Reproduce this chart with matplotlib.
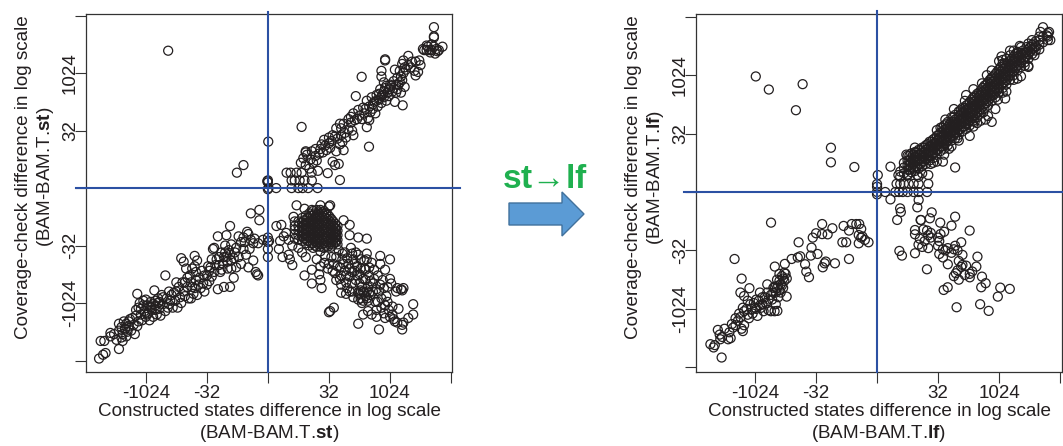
import matplotlib
matplotlib.use('Agg')
import matplotlib.pyplot as plt
from matplotlib.patches import FancyArrow

plt.rcParams['font.family'] = ['Liberation Sans', 'DejaVu Sans']
plt.rcParams['mathtext.fontset'] = 'custom'
plt.rcParams['mathtext.rm'] = 'Liberation Sans'
plt.rcParams['mathtext.bf'] = 'Liberation Sans:bold'

# all values are sign * log2(difference)
tick_pos = [-15, -10, -5, 0, 5, 10, 15]
tick_names = ['', '-1024', '-32', '', '32', '1024', '']

# ---- st panel ----
st_single = [(-8.17, 11.95), (0.03, 4.04), (-2.0, 2.0), (-2.54, 1.34), (2.76, 5.32), (7.68, 9.68), (7.2, 8.0),
             (8.28, 3.6), (11.04, 7.2), (0, 0.67), (0, 0.5), (0.05, 0.0), (0, -0.1), (0.68, 0), (-0.05, 0.6)]

st_low_rows = [(1.53, 1.34), (1.86, 1.34), (2.35, 1.34), (2.76, 1.34), (3.58, 1.34), (1.94, 0.67), (2.2, 0.67),
               (2.6, 0.67), (3.0, 0.67), (3.6, 0.67), (1.94, 0), (2.49, 0), (2.84, 0), (3.3, 0), (4.07, 0)]

st_upper = [(2.7, 2.2), (2.9, 2.6), (3.1, 2.0), (3.2, 2.9), (3.4, 1.7), (3.5, 2.5), (3.7, 2.2), (3.1, 3.1), (3.1, 3.2),
            (3.9, 2.8), (4.0, 2.4), (4.2, 3.0), (4.3, 3.4), (4.5, 3.1), (4.1, 1.5), (4.7, 3.7), (4.8, 3.3), (5.0, 3.9),
            (5.1, 3.5), (5.2, 4.1), (4.9, 1.3), (5.3, 2.3), (5.5, 2.0), (5.8, 2.1), (5.9, 0.7), (5.6, 3.2), (5.7, 4.3),
            (5.9, 3.8), (6.0, 4.6), (6.1, 4.0), (6.2, 3.3), (6.3, 4.8), (6.4, 4.4), (6.6, 5.1), (6.0, 5.2), (5.5, 4.5),
            (6.8, 5.7), (6.9, 5.0), (7.0, 4.6), (7.1, 5.9), (7.3, 6.0), (6.8, 6.2), (7.5, 6.3), (7.7, 6.0), (7.9, 6.5),
            (8.1, 5.3), (8.2, 6.1), (8.3, 5.9), (8.4, 6.6), (8.0, 6.9), (8.6, 6.9), (8.6, 7.3), (8.8, 6.5), (8.9, 7.6),
            (9.0, 7.1), (9.1, 7.7), (9.1, 8.2), (9.3, 7.4), (9.3, 8.0), (9.5, 7.9), (9.5, 8.4), (9.7, 7.6), (9.6, 8.7),
            (9.8, 8.3), (9.9, 8.0), (10.0, 8.6), (10.1, 8.9), (10.2, 8.4), (10.3, 8.7), (10.4, 7.5), (10.5, 8.3),
            (10.5, 9.0), (10.6, 8.6), (9.5, 9.2), (10.7, 9.0), (10.9, 8.3), (10.8, 9.2), (10.9, 9.7), (11.0, 9.4),
            (11.1, 10.0), (11.2, 8.8), (11.3, 10.3), (11.0, 10.8), (11.5, 10.7), (9.3, 10.2), (9.3, 9.7), (11.1, 11.1),
            (11.7, 10.5), (12.0, 10.2), (12.1, 9.8), (12.3, 10.1), (11.8, 11.0), (12.1, 11.0), (12.5, 10.7), (12.4, 11.1),
            (11.5, 11.5), (12.8, 12.0), (13.0, 12.0), (13.3, 11.8), (13.4, 12.0), (13.1, 12.3), (13.6, 12.3), (13.9, 11.9),
            (13.4, 12.5), (13.7, 11.7), (14.0, 12.0), (13.0, 12.4), (13.6, 13.1), (13.6, 13.2), (13.6, 14.0), (14.3, 12.3),
            (9.6, 11.1), (9.6, 11.2), (8.1, 7.6), (8.3, 7.1), (8.5, 7.9), (8.7, 7.5), (8.9, 8.1), (9.2, 8.6), (9.4, 8.1),
            (9.7, 8.9), (10.0, 9.0), (10.3, 9.3), (10.6, 9.6), (10.4, 10.3), (10.8, 10.2), (11.2, 10.5), (3.6, 3.2), (3.9, 3.4),
            (4.4, 3.8), (4.6, 4.2), (5.0, 4.4), (5.3, 4.6), (5.6, 5.2), (5.9, 5.6), (6.2, 5.6), (6.6, 6.0), (7.0, 6.5),
            (7.4, 6.8), (7.8, 7.0), (12.7, 12.1), (13.2, 12.0), (13.8, 12.1)]

st_lower_left = [(-13.83, -14.83), (-13.5, -14.5), (-13.3, -14.35), (-13.7, -13.3), (-13.4, -13.3), (-12.9, -12.9),
                 (-12.9, -12.6), (-12.6, -12.7), (-12.4, -13.2), (-12.2, -14.0), (-12.0, -13.0), (-11.9, -13.3),
                 (-11.9, -12.7), (-11.7, -12.3), (-11.6, -11.8), (-11.4, -12.0), (-12.2, -11.8), (-12.0, -12.1),
                 (-11.8, -11.6), (-11.5, -12.5), (-11.3, -11.4), (-11.2, -12.4), (-11.0, -11.9), (-10.9, -12.7),
                 (-10.8, -11.1), (-10.7, -9.2), (-10.6, -11.6), (-10.4, -10.5), (-10.4, -11.0), (-10.2, -9.8),
                 (-10.1, -10.7), (-10.0, -11.2), (-9.9, -10.2), (-9.8, -10.9), (-9.7, -11.5), (-9.6, -9.9),
                 (-9.5, -10.6), (-9.4, -11.2), (-9.3, -8.9), (-9.2, -10.2), (-9.1, -11.0), (-9.0, -9.6), (-8.9, -10.5),
                 (-8.8, -11.1), (-8.7, -9.3), (-8.6, -10.1), (-8.4, -7.6), (-8.3, -9.6), (-8.2, -10.4), (-8.1, -9.0),
                 (-8.0, -9.8), (-7.8, -10.4), (-7.7, -9.1), (-7.6, -9.8), (-7.5, -8.2), (-7.4, -10.4), (-7.3, -8.6),
                 (-7.2, -9.5), (-7.1, -6.1), (-7.0, -8.2), (-6.9, -9.0), (-6.9, -6.4), (-6.7, -7.0), (-6.6, -8.6),
                 (-6.5, -9.6), (-6.4, -7.6), (-6.3, -8.2), (-6.2, -7.0), (-6.1, -9.2), (-6.0, -8.7), (-6.0, -6.8),
                 (-5.9, -8.0), (-5.8, -9.3), (-5.6, -7.8), (-5.5, -8.7), (-5.4, -7.2), (-5.3, -8.3), (-5.2, -9.0),
                 (-5.0, -7.6), (-4.9, -6.8), (-4.8, -8.1), (-4.8, -7.2), (-4.6, -6.2), (-4.6, -7.7), (-4.5, -5.3),
                 (-4.4, -5.2), (-4.3, -6.7), (-4.1, -8.8), (-4.1, -4.2), (-4.0, -6.0), (-3.9, -7.3), (-3.8, -5.6),
                 (-3.7, -6.6), (-3.6, -8.6), (-3.5, -5.0), (-3.4, -4.1), (-3.4, -6.0), (-3.3, -7.0), (-3.2, -5.4),
                 (-3.1, -3.3), (-3.1, -8.6), (-3.0, -6.3), (-3.0, -4.9), (-2.8, -7.8), (-2.7, -5.6), (-2.4, -6.0),
                 (-2.4, -4.2), (-2.2, -6.6), (-2.0, -5.3), (-2.0, -4.3), (-1.8, -5.8), (-1.7, -3.8), (-1.6, -6.9),
                 (-1.6, -4.0), (-1.5, -5.3), (-1.4, -2.2), (-1.4, -4.5), (-1.2, -6.3), (-1.1, -4.4), (-0.8, -7.6),
                 (-0.7, -1.9), (-0.7, -2.8), (-0.8, -4.8), (-0.4, -4.5), (-0.9, -7.5), (-6.0, -5.9), (-5.8, -6.3),
                 (-11.7, -12.2), (-11.4, -11.6), (-10.6, -10.4), (-9.9, -11.0), (-9.2, -9.8),
                 (-12.2, -12.4), (-11.6, -12.9), (-11.1, -11.3), (-10.7, -12.0), (-10.3, -11.5), (-10.5, -10.0), (-10.0, -9.7),
                 (-9.7, -10.3), (-9.4, -10.1), (-9.2, -10.6), (-8.9, -9.9), (-8.6, -9.5), (-8.4, -10.7), (-7.9, -9.3), (-7.5, -9.0),
                 (-7.1, -10.0), (-6.8, -8.2), (-6.6, -7.8), (-6.2, -8.6), (-5.9, -7.3), (-5.7, -8.4), (-5.2, -7.6), (-5.0, -8.4),
                 (-4.7, -6.9), (-4.4, -7.3), (-4.2, -6.2), (-4.0, -6.7), (-3.8, -7.1), (-3.6, -6.0), (-3.5, -5.6), (-3.3, -6.4),
                 (-3.1, -5.8), (-3.0, -7.0), (-2.8, -6.1), (-2.6, -5.2), (-2.6, -6.9), (-2.2, -4.7), (-1.9, -4.7), (-1.2, -4.8),
                 (-1.0, -7.3), (-8.1, -10.1), (-9.0, -10.0), (-9.6, -10.4), (-10.2, -10.2), (-10.8, -10.6), (-6.8, -9.4), (-6.3, -9.6)]

st_middle = [(0, -4.3), (0, -4.7), (0, -5.3), (0, -6), (0.1, -4.6), (0.7, -3.3), (0.9, -5.3), (1.0, -4.6), (1.1, -3.2),
             (1.3, -4.2), (1.2, -6.0), (1.5, -3.9), (1.7, -5.8), (1.7, -4.5), (1.8, -6.2), (2.0, -5.0), (2.0, -6.7),
             (2.2, -3.3), (2.1, -2.5), (2.35, -1.5), (3.0, -1.8), (4.3, -1.5), (5.1, -1.5), (5.0, -1.6), (3.6, -1.9)]

# the solid blob, column by column: x, then the y values in that column
st_blob = [(2.2, [-3.6, -4.0, -4.4, -2.9]), (2.5, [-2.9, -3.3, -3.7, -4.1, -4.5, -5.2]),
           (2.8, [-2.6, -3.0, -3.4, -3.8, -4.2, -4.6, -5.6]), (3.1, [-2.4, -2.8, -3.2, -3.6, -4.0, -4.4, -4.8, -6.0]),
           (3.4, [-2.2, -2.6, -3.0, -3.4, -3.8, -4.2, -4.6, -5.0]), (3.7, [-2.0, -2.4, -2.8, -3.2, -3.6, -4.0, -4.4, -4.8, -5.2]),
           (4.0, [-1.9, -2.3, -2.7, -3.1, -3.5, -3.9, -4.3, -4.7, -5.1]), (4.3, [-1.9, -2.3, -2.7, -3.1, -3.5, -3.9, -4.3, -4.7, -5.1, -5.5]),
           (4.6, [-2.0, -2.4, -2.8, -3.2, -3.6, -4.0, -4.4, -4.8, -5.2]), (4.9, [-2.3, -2.7, -3.1, -3.5, -3.9, -4.3, -4.7, -5.1]),
           (5.2, [-2.7, -3.1, -3.5, -3.9, -4.3, -4.7, -5.1]), (5.5, [-3.1, -3.5, -3.9, -4.3, -4.7]),
           (5.7, [-3.3, -3.7, -4.1, -4.5, -4.9])]

# second pass over the blob, filling the gaps between the first columns
st_blob_fill = [(2.95, [-2.8, -3.2, -3.6, -4.0, -4.4]), (3.25, [-2.6, -3.0, -3.4, -3.8, -4.2, -4.6]),
                (3.55, [-2.4, -2.8, -3.2, -3.6, -4.0, -4.4, -4.8]), (3.85, [-2.2, -2.6, -3.0, -3.4, -3.8, -4.2, -4.6, -5.0]),
                (4.15, [-2.1, -2.5, -2.9, -3.3, -3.7, -4.1, -4.5, -4.9]), (4.45, [-2.1, -2.5, -2.9, -3.3, -3.7, -4.1, -4.5, -4.9]),
                (4.75, [-2.2, -2.6, -3.0, -3.4, -3.8, -4.2, -4.6, -5.0]), (5.05, [-2.5, -2.9, -3.3, -3.7, -4.1, -4.5, -4.9]),
                (5.35, [-2.9, -3.3, -3.7, -4.1, -4.5, -4.9]), (5.6, [-3.5, -3.9, -4.3, -4.7])]

st_lower_right = [(6.2, -2.8), (6.7, -3.2), (8.1, -4.4), (6.7, -4.1), (7.4, -4.3), (10, -6.2), (9.2, -5.9), (8.1, -5.7),
                  (3.0, -7.6), (3.6, -7.1), (3.6, -8.3), (4.2, -7.5), (4.3, -8.0), (4.4, -8.7), (4.6, -6.5), (4.9, -7.0),
                  (5.1, -10.7), (5.0, -10.8), (5.4, -10.4), (5.2, -6.0), (5.4, -6.6), (5.5, -7.4), (5.6, -8.0), (5.8, -5.4),
                  (5.9, -6.9), (6.0, -7.6), (6.0, -9.1), (6.1, -6.2), (6.3, -5.6), (6.3, -7.2), (6.4, -8.2), (6.4, -9.2),
                  (6.6, -6.6), (6.7, -7.7), (6.7, -9.0), (6.8, -5.2), (6.9, -8.3), (7.0, -6.2), (7.0, -9.5), (7.1, -7.2),
                  (7.2, -5.6), (7.2, -8.0), (7.3, -6.8), (7.4, -9.1), (7.4, -11.8), (7.5, -7.5), (7.6, -6.2), (7.6, -9.6),
                  (7.7, -8.6), (7.7, -10.0), (7.8, -9.0), (7.8, -11.0), (7.9, -7.0), (8.0, -9.4), (8.0, -8.0), (8.1, -6.2),
                  (8.1, -9.0), (8.2, -9.8), (8.2, -10.7), (8.3, -7.6), (8.4, -9.3), (8.5, -6.5), (8.5, -11.0), (8.6, -8.3),
                  (8.7, -7.1), (8.8, -9.9), (8.9, -10.6), (9.0, -7.6), (9.1, -12.3), (9.1, -9.0), (9.2, -6.6), (9.3, -10.4),
                  (9.4, -8.0), (9.5, -10.9), (9.6, -7.1), (9.7, -9.4), (9.8, -8.6), (9.9, -10.6), (10.0, -7.9), (10.0, -11.2),
                  (10.1, -8.3), (10.2, -10.3), (10.3, -11.4), (10.5, -9.0), (10.6, -8.7), (10.7, -10.5), (10.9, -8.8), (11.0, -8.9),
                  (11.0, -12.3), (11.0, -11.9), (11.1, -11.7), (11.1, -8.7), (11.5, -11.3), (11.9, -10.1), (11.9, -11.0), (10.4, -11.6),
                  (4.0, -6.2), (4.3, -6.8), (4.7, -5.9), (5.0, -6.6), (5.3, -7.2), (5.6, -6.0), (5.7, -6.8), (5.9, -7.9), (6.1, -5.7),
                  (6.2, -6.6), (6.4, -7.6), (6.5, -6.1), (6.7, -7.0), (6.9, -5.7), (6.9, -7.3), (7.1, -6.6), (7.3, -7.6), (7.4, -5.8),
                  (7.5, -8.3), (7.6, -7.0), (7.8, -7.9), (7.9, -6.3), (8.0, -7.1), (8.2, -8.6), (8.3, -6.9), (8.4, -8.1), (8.6, -9.0),
                  (8.7, -7.9), (8.9, -8.8), (9.0, -9.9), (9.2, -8.4), (9.3, -9.6), (9.5, -8.7), (9.6, -10.2), (9.8, -9.9), (7.5, -9.2),
                  (7.6, -8.9), (7.9, -9.1), (8.1, -9.6), (7.8, -9.8), (7.4, -9.7), (8.3, -9.1), (6.9, -9.0), (6.5, -8.7), (6.0, -8.4),
                  (10.2, -11.0), (9.6, -11.3), (8.9, -11.2), (10.6, -11.7)]

# ---- lf panel ----
lf_single = [(-9.94, 9.89), (-8.87, 8.77), (-6.1, 9.23), (-6.65, 7.0), (-3.78, 3.79), (-3.78, 2.54), (-1.86, 2.14),
             (0.06, 1.45), (0, 0.68), (0, 0.45), (0, 0.0), (0, -0.2), (0.67, 0), (1.1, 2.17), (1.1, -0.63),
             (6.4, 2.1), (3.1, 3.4), (2.4, 3.2), (1.9, 1.75), (1.75, 1.45), (4.2, 0.7), (4.1, 0)]

lf_low_rows = [(1.6, 0.7), (1.9, 0.7), (2.2, 0.7), (2.6, 0.7), (3.0, 0.7), (3.4, 0.7), (1.5, 0), (1.8, 0), (2.1, 0),
               (2.5, 0), (3.0, 0), (3.4, 0), (1.9, 1.3), (2.5, 1.4), (3.3, 1.45), (4.2, 1.45)]

# the dense diagonal band, column by column: x, then the y values in that column
lf_band = [(2.2, [1.6, 2.1, 2.5]), (2.5, [1.5, 1.9, 2.3, 2.7, 3.1]), (2.8, [1.7, 2.1, 2.5, 2.9, 3.3]),
           (3.1, [1.8, 2.2, 2.6, 3.0, 3.4, 3.8]), (3.4, [2.0, 2.4, 2.8, 3.2, 3.6]), (3.7, [2.2, 2.6, 3.0, 3.4, 3.8, 1.6]),
           (4.0, [2.4, 2.8, 3.2, 3.6, 4.0]), (4.3, [2.7, 3.1, 3.5, 3.9, 4.3]), (4.6, [2.9, 3.3, 3.7, 4.1, 4.5, 2.5]),
           (4.9, [3.2, 3.6, 4.0, 4.4, 4.8, 5.3]), (5.2, [3.5, 3.9, 4.3, 4.7, 5.1, 5.5]), (5.5, [3.7, 4.1, 4.5, 4.9, 5.3, 5.7, 3.2]),
           (5.8, [4.0, 4.4, 4.8, 5.2, 5.6, 6.0]), (6.1, [4.4, 4.8, 5.2, 5.6, 6.0, 6.4, 3.9]), (6.4, [4.6, 5.0, 5.4, 5.8, 6.2, 6.6]),
           (6.7, [4.9, 5.3, 5.7, 6.1, 6.5, 6.9, 4.4]), (7.0, [5.2, 5.6, 6.0, 6.4, 6.8, 7.2]), (7.3, [5.4, 5.8, 6.2, 6.6, 7.0, 7.4, 8.3]),
           (7.6, [5.7, 6.1, 6.5, 6.9, 7.3, 7.7, 4.8]), (7.9, [6.1, 6.5, 6.9, 7.3, 7.7, 8.1, 8.8]), (8.2, [6.4, 6.8, 7.2, 7.6, 8.0, 8.4, 5.9]),
           (8.5, [6.7, 7.1, 7.5, 7.9, 8.3, 8.7, 6.1]), (8.8, [7.1, 7.5, 7.9, 8.3, 8.7, 9.1]), (9.1, [7.4, 7.8, 8.2, 8.6, 9.0, 9.4, 6.5]),
           (9.4, [7.8, 8.2, 8.6, 9.0, 9.4, 9.8, 10.4]), (9.7, [8.1, 8.5, 8.9, 9.3, 9.7, 10.1, 7.1]), (10.0, [8.5, 8.9, 9.3, 9.7, 10.1, 10.5, 11.2]),
           (10.3, [8.9, 9.3, 9.7, 10.1, 10.5, 11.0, 11.3]), (10.6, [9.2, 9.6, 10.0, 10.4, 10.8, 11.4, 8.6]), (10.9, [9.6, 10.0, 10.4, 10.8, 11.2, 11.7]),
           (11.2, [10.0, 10.4, 10.8, 11.2, 11.6, 12.1]), (11.5, [10.4, 10.8, 11.2, 11.6, 12.0, 9.7]), (11.8, [10.7, 11.1, 11.5, 11.9, 12.4]),
           (12.1, [11.1, 11.5, 11.9, 10.8]), (12.4, [11.4, 11.8, 12.2, 12.7, 10.7]), (12.7, [11.8, 12.2, 12.6, 13.0]),
           (13.0, [12.1, 12.5, 12.9, 12.4]), (13.3, [12.2, 12.6, 13.0, 13.3]), (13.6, [12.8, 13.3, 14.1]), (14.0, [13.3, 13.6, 13.0])]

# second pass over the band, between the first columns
lf_band_fill = [(2.65, [1.9, 2.3, 2.7, 3.1]), (2.95, [2.0, 2.4, 2.8, 3.2]), (3.25, [2.2, 2.6, 3.0, 3.4]), (3.55, [2.4, 2.8, 3.2, 3.6]),
                (3.85, [2.6, 3.0, 3.4, 3.8]), (4.15, [2.9, 3.3, 3.7, 4.1]), (4.45, [3.1, 3.5, 3.9, 4.3]), (4.75, [3.4, 3.8, 4.2, 4.6]),
                (5.05, [3.7, 4.1, 4.5, 4.9]), (5.35, [3.9, 4.3, 4.7, 5.1, 5.5]), (5.65, [4.2, 4.6, 5.0, 5.4, 5.8]), (5.95, [4.6, 5.0, 5.4, 5.8]),
                (6.25, [4.8, 5.2, 5.6, 6.0, 6.4]), (6.55, [5.1, 5.5, 5.9, 6.3]), (6.85, [5.4, 5.8, 6.2, 6.6, 7.0]), (7.15, [5.6, 6.0, 6.4, 6.8, 7.2]),
                (7.45, [5.9, 6.3, 6.7, 7.1, 7.5]), (7.75, [6.3, 6.7, 7.1, 7.5, 7.9]), (8.05, [6.6, 7.0, 7.4, 7.8, 8.2]), (8.35, [6.9, 7.3, 7.7, 8.1, 8.5]),
                (8.65, [7.3, 7.7, 8.1, 8.5, 8.9]), (8.95, [7.6, 8.0, 8.4, 8.8, 9.2]), (9.25, [8.0, 8.4, 8.8, 9.2, 9.6]), (9.55, [8.3, 8.7, 9.1, 9.5, 9.9]),
                (9.85, [8.7, 9.1, 9.5, 9.9, 10.3]), (10.15, [9.1, 9.5, 9.9, 10.3, 10.7]), (10.45, [9.4, 9.8, 10.2, 10.6, 11.0]),
                (10.75, [9.8, 10.2, 10.6, 11.0]), (11.05, [10.2, 10.6, 11.0, 11.4]), (11.35, [10.6, 11.0, 11.4, 11.8]), (11.65, [10.9, 11.3, 11.7]),
                (11.95, [11.3, 11.7, 12.1]), (12.25, [11.6, 12.0, 12.4]), (12.55, [12.0, 12.4]), (12.85, [12.3, 12.7])]

lf_upper_edge = [(13.4, 13.7), (13.9, 13.4), (14.2, 13.0), (14.1, 13.7), (11.5, 11.9), (9.3, 9.6), (12.9, 11.7), (8.9, 6.2),
                 (5.4, 2.6), (4.9, 2.6), (7.9, 5.6), (9.4, 6.0), (10.5, 8.0), (11.8, 9.9), (12.4, 10.8), (3.4, 1.3),
                 (7.2, 7.8), (6.3, 7.1), (5.6, 6.2), (8.6, 9.3), (9.0, 10.0), (10.2, 11.6), (10.9, 12.1), (11.7, 12.5),
                 (8.0, 6.0), (8.7, 6.8), (9.9, 7.9), (10.3, 8.5), (11.2, 9.6), (6.6, 4.6), (5.9, 3.7), (4.4, 2.4)]

lf_lower_left = [(-13.66, -13.02), (-13.4, -13.3), (-13.3, -13.1), (-12.74, -14.16), (-13.05, -11.8), (-12.9, -12.2), (-12.7, -12.4),
                 (-12.85, -12.6), (-12.5, -11.7), (-12.2, -12.6), (-12.0, -12.5), (-12.1, -12.0), (-11.8, -11.6), (-11.6, -11.4),
                 (-11.9, -11.3), (-11.4, -11.0), (-11.2, -10.7), (-11.1, -11.7), (-11.0, -11.9), (-10.9, -11.4), (-11.6, -10.8),
                 (-11.3, -10.4), (-10.9, -10.2), (-10.7, -10.0), (-11.0, -9.9), (-10.5, -10.8), (-10.4, -9.6), (-10.2, -10.4),
                 (-10.0, -9.9), (-9.9, -9.2), (-9.8, -10.6), (-9.6, -9.7), (-9.4, -9.0), (-9.3, -10.2), (-9.1, -9.5), (-9.0, -8.6),
                 (-8.9, -10.1), (-8.7, -10.2), (-8.6, -9.2), (-8.5, -8.6), (-8.4, -10.2), (-8.17, -10.17), (-8.3, -9.6), (-8.2, -8.2),
                 (-8.1, -9.0), (-8.0, -7.6), (-7.9, -8.6), (-7.8, -7.2), (-7.7, -8.2), (-7.6, -7.6), (-7.5, -7.0), (-7.41, -8.95),
                 (-7.8, -8.0), (-8.0, -8.4), (-8.4, -8.1), (-7.4, -7.4), (-7.6, -6.9), (-11.68, -5.73), (-11.1, -7.41), (-8.69, -2.62),
                 (-11.2, -8.6), (-10.9, -8.9), (-10.46, -8.23), (-10.6, -9.3), (-8.38, -6.38), (-7.56, -6.15), (-9.0, -7.9), (-9.6, -8.6),
                 (-10.1, -9.5), (-9.7, -9.3), (-9.5, -9.9), (-9.2, -9.0), (-8.9, -9.2), (-8.7, -8.8), (-8.5, -8.2), (-8.3, -8.6), (-8.1, -8.0),
                 (-7.9, -7.9), (-8.2, -7.5), (-8.0, -7.0), (-7.7, -7.4), (-10.3, -10.0), (-10.6, -10.5), (-9.9, -10.0), (-9.4, -9.6)]

lf_arc = [(-7, -5.73), (-6.5, -5.6), (-6.43, -4.3), (-6.3, -5.5), (-5.27, -3.9), (-5, -3.53), (-4.5, -2.74), (-4.5, -3.6),
          (-4.05, -3.62), (-3.66, -3.1), (-5.37, -4.76), (-5.43, -5.44), (-4.88, -5.3), (-5.9, -6.18), (-5.8, -6.81),
          (-5.58, -7.29), (-4.45, -6.44), (-4.2, -5.95), (-4.3, -6.1), (-3.45, -6.1), (-2.3, -5.73), (-2.84, -4.3), (-2.53, -4.3),
          (-2.74, -2.9), (-2.3, -3.3), (-2.07, -2.74), (-1.7, -2.74), (-1.46, -2.74), (-1.3, -3.16), (-1.5, -3.68), (-1.5, -4.39),
          (-1.3, -3.9), (-1.0, -4.1), (-0.7, -4.3), (-1.2, -3.8)]

lf_lower_right = [(3.41, -0.68), (3.3, -1.31), (1.89, -1.4), (1.95, -1.71), (1.65, -2.39), (4.48, -1.74), (3.57, -2.39), (4.33, -2.25),
                  (3.6, -2.4), (6.4, -2.11), (5.18, -2.62), (6.1, -2.88), (7.59, -3.3), (3.11, -3.25), (3.11, -3.62), (4.1, -3.3),
                  (4.4, -3.5), (3.8, -3.2), (4.2, -3.7), (3.5, -4.0), (3.4, -4.5), (3.9, -4.2), (4.4, -3.9), (4.2, -4.8), (3.7, -4.7),
                  (1.83, -5.04), (2.04, -5.44), (3.11, -5.24), (4.09, -6.61), (5.46, -8.38), (5.79, -8.15), (6.52, -9.86), (8.45, -9.6),
                  (9.15, -10.17), (9.9, -8.95), (10.1, -8.18), (10.88, -8.29), (8.23, -5.53), (8.9, -7.8), (8.54, -8.15), (8.14, -6.38),
                  (8.6, -7.24), (6.46, -6.95), (6.6, -6.7), (6.3, -7.2), (6.7, -7.5), (7.2, -7.1), (7.6, -7.0), (7.8, -6.8), (7.0, -6.24),
                  (7.3, -6.3), (6.9, -6.4), (7.0, -5.38), (6.9, -4.3), (5.8, -6.18), (5.4, -4.9), (5.0, -4.6), (5.6, -5.0), (5.8, -4.8),
                  (6.1, -5.2), (6.3, -4.9), (6.6, -5.0), (5.1, -5.3), (5.4, -5.6), (5.1, -4.2), (5.2, -3.6), (5.5, -3.4), (5.0, -3.9),
                  (6.4, -4.6), (7.6, -7.3), (6.7, -5.9)]


def expand(columns):
    return [(x, y) for x, ys in columns for y in ys]


def draw_panel(left, right, top, bottom, xlim, ylim, pts, xlabel, ylabel, hline, vtop):
    ax = fig.add_axes([left / W, 1 - bottom / H, (right - left) / W, (bottom - top) / H])
    xs = [p[0] for p in pts]
    ys = [p[1] for p in pts]
    ax.scatter(xs, ys, s=42, facecolors='none', edgecolors='#231f20', linewidths=0.9, clip_on=False, zorder=2)
    ax.set_xlim(xlim)
    ax.set_ylim(ylim)
    ax.set_xticks([t for t in tick_pos if xlim[0] < t < xlim[1]])
    ax.set_xticklabels(tick_names[1:])
    ax.set_yticks(tick_pos)
    ax.set_yticklabels(tick_names, rotation=90, va='center')
    ax.tick_params(length=8, width=0.8, color='#333333', labelcolor='#231f20', labelsize=13.5, pad=1)
    ax.tick_params(axis='y', pad=-3)
    for s in ax.spines.values():
        s.set_linewidth(0.9)
        s.set_color('#333333')
    # blue guide lines run a bit past the frame
    ax.plot(hline, [0, 0], color=BLUE, lw=1.5, clip_on=False, zorder=3)
    ax.plot([0, 0], [ylim[0], vtop], color=BLUE, lw=1.5, clip_on=False, zorder=3)
    ax.set_xlabel(xlabel, fontsize=13.6, color='#231f20', linespacing=1.2)
    ax.set_ylabel(ylabel, fontsize=13.6, color='#231f20', linespacing=1.2)
    ax.xaxis.set_label_coords(0.5, -0.087)
    ax.yaxis.set_label_coords(-0.083, 0.545)
    return ax


W, H = 1063, 446
BLUE = '#2b50a3'
fig = plt.figure(figsize=(W / 100, H / 100), dpi=100)

st_pts = st_single + st_low_rows + st_upper + st_lower_left + st_middle + expand(st_blob) + expand(st_blob_fill) + st_lower_right
lf_pts = lf_single + lf_low_rows + expand(lf_band) + expand(lf_band_fill) + lf_upper_edge + lf_lower_left + lf_arc + lf_lower_right

draw_panel(86, 452, 14.5, 372, (-14.9, 15.08), (-16.0, 15.1), st_pts,
           'Constructed states difference in log scale\n(BAM-BAM.T.$\\mathbf{st}$)',
           'Coverage-check difference in log scale\n(BAM-BAM.T.$\\mathbf{st}$)',
           [-15.74, 15.74], 15.35)
draw_panel(696, 1062, 14.5, 372, (-14.84, 15.16), (-15.4, 15.19), lf_pts,
           'Constructed states difference in log scale\n(BAM-BAM.T.$\\mathbf{lf}$)',
           'Coverage-check difference in log scale\n(BAM-BAM.T.$\\mathbf{lf}$)',
           [-15.8, 15.2], 15.47)

# middle arrow and its caption, overlay axes in pixels
ov = fig.add_axes([0, 0, 1, 1])
ov.set_xlim(0, W)
ov.set_ylim(H, 0)
ov.axis('off')
ov.patch.set_alpha(0)
ov.add_patch(FancyArrow(509, 214, 75, 0, width=22, head_width=44, head_length=22, length_includes_head=True,
                        facecolor='#5b9bd5', edgecolor='#41719c', linewidth=1))
ov.text(545, 179, '$\\mathbf{st}$\u2192$\\mathbf{lf}$', color='#1fb04f', fontsize=24, ha='center', va='center')

fig.savefig('out.png', dpi=100)
